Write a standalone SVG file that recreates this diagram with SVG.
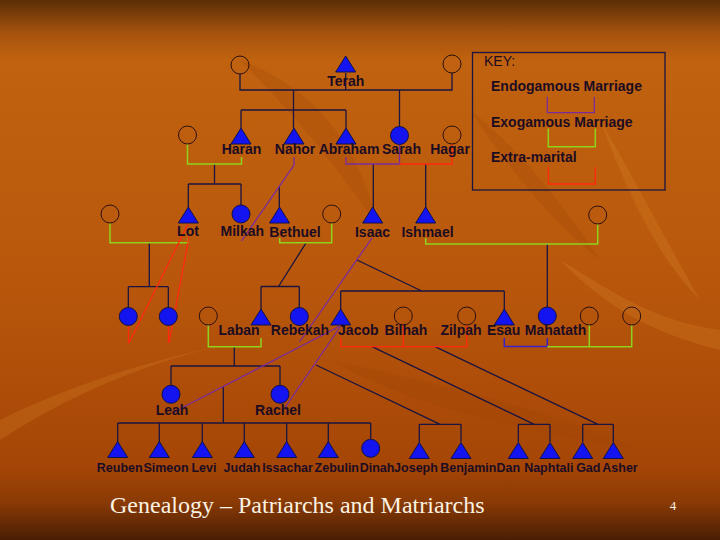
<svg xmlns="http://www.w3.org/2000/svg" width="720" height="540" viewBox="0 0 720 540">
<defs>
<linearGradient id="bg" x1="0" y1="0" x2="0" y2="1">
<stop offset="0" stop-color="#5a2e06"/>
<stop offset="0.06" stop-color="#a5520e"/>
<stop offset="0.11" stop-color="#c0620f"/>
<stop offset="0.5" stop-color="#b9580c"/>
<stop offset="0.86" stop-color="#a64606"/>
<stop offset="0.93" stop-color="#8a3a05"/>
<stop offset="1" stop-color="#4a1e04"/>
</linearGradient>
<path id="tri" d="M0,0 L10,16 L-10,16 Z"/>
<style>
.tri{fill:#1414f0;stroke:#10104a;stroke-width:1}
.fc{fill:#1414f0;stroke:#10104a;stroke-width:1}
.ec{fill:none;stroke:#2a1010;stroke-width:1}
.lb{font-family:"Liberation Sans",Arial,sans-serif;font-size:14px;font-weight:bold;fill:#1c0c22;text-anchor:middle}
.sm{font-family:"Liberation Sans",Arial,sans-serif;font-size:12.5px;font-weight:bold;fill:#1c0c22;text-anchor:middle}
.kt{font-family:"Liberation Sans",Arial,sans-serif;font-size:14px;font-weight:bold;fill:#1c0c22}
.blk{fill:none;stroke:#1a1440;stroke-width:1.3}
.pur{fill:none;stroke:#7b2c9c;stroke-width:1.3}
.blu{fill:none;stroke:#3a22c8;stroke-width:1.5}
.grn{fill:none;stroke:#8fd21e;stroke-width:1.5}
.red{fill:none;stroke:#ff2a10;stroke-width:1.3}
</style>
</defs>
<rect width="720" height="540" fill="url(#bg)"/>
<g id="texture" opacity="0.22">
<path d="M0,420 C80,380 180,350 300,330 C200,345 100,375 0,440 Z" fill="#e09030"/>
<path d="M240,60 C320,90 360,150 380,230 C340,170 300,120 240,60 Z" fill="#9a4206"/>
<path d="M560,260 C600,300 640,330 720,350 L720,330 C650,320 610,290 560,260 Z" fill="#e09030"/>
<path d="M600,120 C630,170 660,230 700,300 C660,260 630,200 600,120 Z" fill="#e09030"/>
<path d="M330,360 C420,380 520,400 640,450 C520,430 420,410 330,360 Z" fill="#9a4206"/>
<path d="M470,110 C520,150 560,200 600,260 C550,220 510,170 470,110 Z" fill="#9a4206"/>
</g>

<g id="connectors">
<path class="blk" d="M240,74 V90 H452 V73 M345.7,73 V90 M293.5,90 V128 M241,110 H346 M241,110 V128 M346,110 V128 M399.5,90 V126.5"/>
<path class="blk" d="M214.5,164 V184 M188.3,184 H241 M188.3,184 V207 M241,184 V205 M279.3,187 V207 M373.3,164 V208 M425.7,164 V208"/>
<path class="blk" d="M149.3,243 V286.7 M128.3,286.7 H168.3 M128.3,286.7 V307.5 M168.3,286.7 V307.5"/>
<path class="blk" d="M306,243 L278.5,286.5 M261,286.5 H299.3 M261,286.5 V310 M299.3,286.5 V307.5"/>
<path class="blk" d="M357,260 L421.7,291 M340.7,291 H504.3 M340.7,291 V310 M504.3,291 V310 M547.3,244 V307"/>
<path class="blk" d="M234.3,347 V366 M171,366 H280 M171,366 V385.3 M280,366 V385.3"/>
<path class="blk" d="M223.3,387 V423 M117.7,423 H370.7 M117.7,423 V442 M159.3,423 V442 M202.3,423 V442 M244.3,423 V442 M286.7,423 V442 M328.3,423 V442 M370.7,423 V439.3"/>
<path class="blk" d="M316,365 L440.2,424.3 M419.3,424.3 H461 M419.3,424.3 V442 M461,424.3 V442"/>
<path class="blk" d="M372,346.7 L534.2,424.3 M518.3,424.3 H550 M518.3,424.3 V442 M550,424.3 V442"/>
<path class="blk" d="M435,346.7 L598,424.3 M582.7,424.3 H613.3 M582.7,424.3 V442 M613.3,424.3 V442"/>
<path class="pur" d="M346,157 V164 H399.5 V144.5"/>
<path class="pur" d="M294,157 V165 L241.5,241"/>
<path class="pur" d="M372,238 L299.5,342"/>
<path class="pur" d="M340,326 L172,413"/>
<path class="pur" d="M340,327 L284,409"/>
<path class="blu" d="M504.3,338 V346.5 H547.3 V338"/>
<path class="grn" d="M187.5,144 V164 H241.5 V157"/>
<path class="grn" d="M110,223 V242.7 H188.3 V238"/>
<path class="grn" d="M279.7,238 V242.7 H331.7 V223"/>
<path class="grn" d="M425.7,238 V244 H597.7 V224"/>
<path class="grn" d="M208.3,325 V346.7 H261 V338"/>
<path class="grn" d="M547.3,346.7 H631.7 V325 M589.3,346.7 V325"/>
<path class="red" d="M399.5,164 H452 V144"/>
<path class="red" d="M188,224 L129,343 M189,237 L169,343 M128.5,326 V343 M168.5,326 V343"/>
<path class="red" d="M340.7,338 V346.7 H466.7 V325 M403.3,325 V346.7"/>
</g>

<g id="key">
<rect x="472.5" y="52.5" width="192.5" height="137.5" fill="none" stroke="#1a1440" stroke-width="1.3"/>
<text x="484" y="66" class="kt" style="font-weight:normal">KEY:</text>
<text x="491" y="91" class="kt">Endogamous Marriage</text>
<path class="pur" d="M547.3,96.7 V112.7 H594.3 V96.7"/>
<text x="491" y="127" class="kt">Exogamous Marriage</text>
<path class="grn" d="M548.3,128.5 V146.7 H595.3 V128.5"/>
<text x="491" y="162" class="kt">Extra-marital</text>
<path class="red" d="M548.3,167 V184 H595.3 V167"/>
</g>

<g id="terah_wife1"><circle class="ec" cx="240" cy="65" r="9"/></g>
<g id="terah"><use href="#tri" class="tri" x="345.7" y="56"/><text class="lb" x="345.7" y="86">Terah</text></g>
<g id="terah_wife2"><circle class="ec" cx="452" cy="64" r="9"/></g>

<g id="haran_wife"><circle class="ec" cx="187.5" cy="135" r="9"/></g>
<g id="haran"><use href="#tri" class="tri" x="241" y="128"/><text class="lb" x="241.5" y="154">Haran</text></g>
<g id="nahor"><use href="#tri" class="tri" x="294" y="128"/><text class="lb" x="295" y="154">Nahor</text></g>
<g id="abraham"><use href="#tri" class="tri" x="346" y="128"/><text class="lb" x="349" y="154">Abraham</text></g>
<g id="sarah"><circle class="fc" cx="399.5" cy="135.5" r="9"/><text class="lb" x="401.5" y="154">Sarah</text></g>
<g id="hagar"><circle class="ec" cx="452" cy="135" r="9"/><text class="lb" x="450" y="154">Hagar</text></g>

<g id="lot_wife"><circle class="ec" cx="110" cy="214" r="9"/></g>
<g id="lot"><use href="#tri" class="tri" x="188.3" y="207"/><text class="lb" x="188" y="236">Lot</text></g>
<g id="milkah"><circle class="fc" cx="241" cy="214" r="9"/><text class="lb" x="242.3" y="236">Milkah</text></g>
<g id="bethuel"><use href="#tri" class="tri" x="279.5" y="207"/><text class="lb" x="295" y="237">Bethuel</text></g>
<g id="bethuel_wife"><circle class="ec" cx="331.7" cy="214" r="9"/></g>
<g id="isaac"><use href="#tri" class="tri" x="372.7" y="207"/><text class="lb" x="372.5" y="237">Isaac</text></g>
<g id="ishmael"><use href="#tri" class="tri" x="425.7" y="207"/><text class="lb" x="427.5" y="237">Ishmael</text></g>
<g id="ishmael_wife"><circle class="ec" cx="597.7" cy="215" r="9"/></g>

<g id="lot_daughter1"><circle class="fc" cx="128.3" cy="316.5" r="9"/></g>
<g id="lot_daughter2"><circle class="fc" cx="168.3" cy="316.5" r="9"/></g>
<g id="laban_wife"><circle class="ec" cx="208.3" cy="316" r="9"/></g>
<g id="laban"><use href="#tri" class="tri" x="261" y="309"/><text class="lb" x="239" y="335">Laban</text></g>
<g id="rebekah"><circle class="fc" cx="299.3" cy="316.5" r="9"/><text class="lb" x="300" y="335">Rebekah</text></g>
<g id="jacob"><use href="#tri" class="tri" x="340.7" y="309"/><text class="lb" x="358.3" y="335">Jacob</text></g>
<g id="bilhah"><circle class="ec" cx="403.3" cy="316" r="9"/><text class="lb" x="406" y="335">Bilhah</text></g>
<g id="zilpah"><circle class="ec" cx="466.7" cy="316" r="9"/><text class="lb" x="461" y="335">Zilpah</text></g>
<g id="esau"><use href="#tri" class="tri" x="504.3" y="309"/><text class="lb" x="503.7" y="335">Esau</text></g>
<g id="mahatath"><circle class="fc" cx="547.3" cy="316" r="9"/><text class="lb" x="555.5" y="335">Mahatath</text></g>
<g id="esau_wife2"><circle class="ec" cx="589.3" cy="316" r="9"/></g>
<g id="esau_wife3"><circle class="ec" cx="631.7" cy="316" r="9"/></g>

<g id="leah"><circle class="fc" cx="171" cy="394.3" r="9"/><text class="lb" x="172" y="415">Leah</text></g>
<g id="rachel"><circle class="fc" cx="280" cy="394.3" r="9"/><text class="lb" x="278" y="415">Rachel</text></g>

<g id="reuben"><use href="#tri" class="tri" x="117.7" y="441.5"/><text class="sm" x="119.7" y="472">Reuben</text></g>
<g id="simeon"><use href="#tri" class="tri" x="159.3" y="441.5"/><text class="sm" x="166" y="472">Simeon</text></g>
<g id="levi"><use href="#tri" class="tri" x="202.3" y="441.5"/><text class="sm" x="204" y="472">Levi</text></g>
<g id="judah"><use href="#tri" class="tri" x="244.3" y="441.5"/><text class="sm" x="242" y="472">Judah</text></g>
<g id="issachar"><use href="#tri" class="tri" x="286.7" y="441.5"/><text class="sm" x="287.5" y="472">Issachar</text></g>
<g id="zebulin"><use href="#tri" class="tri" x="328.3" y="441.5"/><text class="sm" x="336.8" y="472">Zebulin</text></g>
<g id="dinah"><circle class="fc" cx="370.7" cy="448.3" r="9"/><text class="sm" x="377" y="472">Dinah</text></g>
<g id="joseph"><use href="#tri" class="tri" x="419.3" y="442.5"/><text class="sm" x="416" y="472">Joseph</text></g>
<g id="benjamin"><use href="#tri" class="tri" x="461" y="442.5"/><text class="sm" x="468.3" y="472">Benjamin</text></g>
<g id="dan"><use href="#tri" class="tri" x="518.3" y="442.5"/><text class="sm" x="508.3" y="472">Dan</text></g>
<g id="naphtali"><use href="#tri" class="tri" x="550" y="442.5"/><text class="sm" x="548.8" y="472">Naphtali</text></g>
<g id="gad"><use href="#tri" class="tri" x="582.7" y="442.5"/><text class="sm" x="588.3" y="472">Gad</text></g>
<g id="asher"><use href="#tri" class="tri" x="613.3" y="442.5"/><text class="sm" x="620" y="472">Asher</text></g>

<text x="110" y="513" font-family="'Liberation Serif','Times New Roman',serif" font-size="24" fill="#faf2e2">Genealogy – Patriarchs and Matriarchs</text>
<text x="673" y="510" font-family="'Liberation Serif','Times New Roman',serif" font-size="13" fill="#faf2e2" text-anchor="middle">4</text>
</svg>
